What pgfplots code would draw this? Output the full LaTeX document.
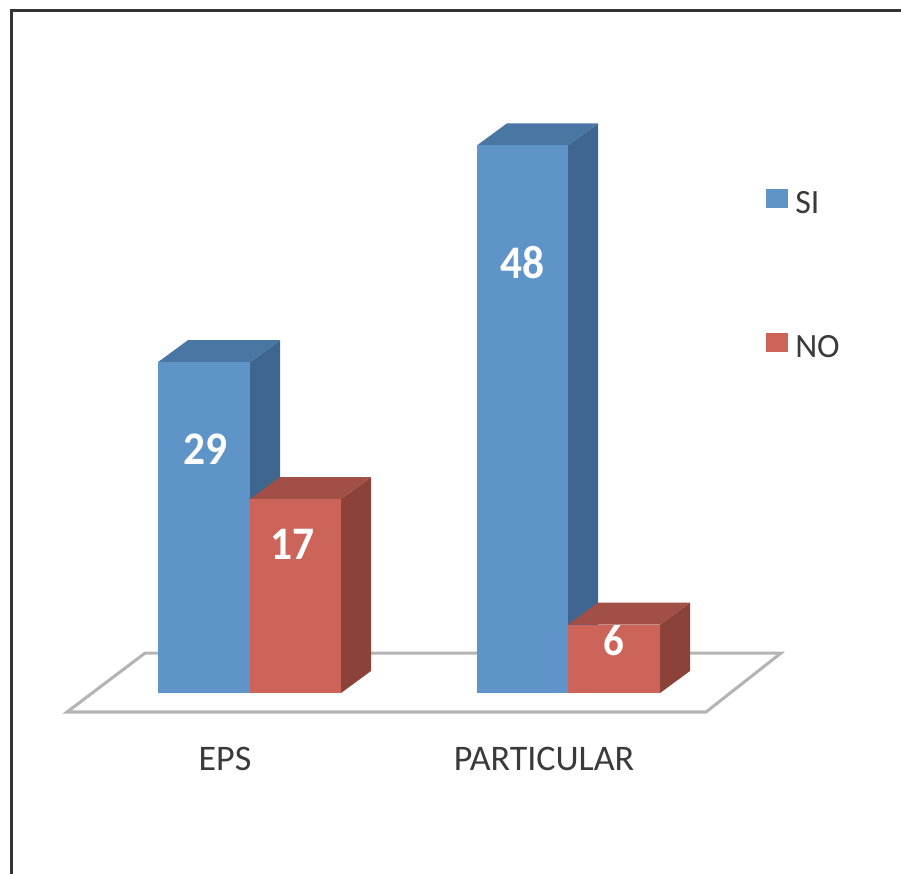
\documentclass[border=0pt]{standalone}
\usepackage{fontspec}
\setmainfont{Carlito}
\usepackage{pgfplots}
\pgfplotsset{compat=1.18}
\definecolor{blueFront}{HTML}{5F94C9}
\definecolor{blueTop}{HTML}{4A76A3}
\definecolor{blueSide}{HTML}{3E668F}
\definecolor{redFront}{HTML}{CC645A}
\definecolor{redTop}{HTML}{A14F47}
\definecolor{redSide}{HTML}{8A4239}
\definecolor{floorLine}{HTML}{B4B4B4}
\definecolor{frameLine}{HTML}{333333}
\definecolor{labelText}{HTML}{3A3A3A}
\begin{document}
\begin{tikzpicture}
% fixes the page to the size of the plotting area
\path[use as bounding box] (0,0) rectangle (675.75pt,655.5pt);
\begin{axis}[
  scale only axis,
  width=675.75pt, height=655.5pt,
  xmin=0, xmax=901,
  ymin=-15.86, ymax=60.74,
  hide axis,
  every axis plot/.append style={line join=miter},
  face/.style={draw=none, fill=#1},
]
% outer frame
\addplot[draw=frameLine, line width=2.8pt, mark=none] coordinates {(11.5,-15.86) (11.5,59.82) (901,59.82)};
% floor of the chart
\addplot[draw=floorLine, line width=2.3pt, mark=none] coordinates {(67,-1.665) (706,-1.665) (781,3.5) (145,3.5)} -- cycle;

% EPS, SI = 29
\addplot[face=blueSide] coordinates {(250,0) (280,1.93) (280,30.93) (250,29)} -- cycle;
\addplot[face=blueTop] coordinates {(158,29) (250,29) (280,30.93) (188,30.93)} -- cycle;
\addplot[face=blueFront] coordinates {(158,0) (250,0) (250,29) (158,29)} -- cycle;
% EPS, NO = 17
\addplot[face=redSide] coordinates {(341,0) (371,1.93) (371,18.93) (341,17)} -- cycle;
\addplot[face=redTop] coordinates {(250,17) (341,17) (371,18.93) (280,18.93)} -- cycle;
\addplot[face=redFront] coordinates {(250,0) (341,0) (341,17) (250,17)} -- cycle;
% PARTICULAR, SI = 48
\addplot[face=blueSide] coordinates {(568,0) (598,1.93) (598,49.93) (568,48)} -- cycle;
\addplot[face=blueTop] coordinates {(477,48) (568,48) (598,49.93) (507,49.93)} -- cycle;
\addplot[face=blueFront] coordinates {(477,0) (568,0) (568,48) (477,48)} -- cycle;
% PARTICULAR, NO = 6
\addplot[face=redSide] coordinates {(660,0) (690,1.93) (690,7.93) (660,6)} -- cycle;
\addplot[face=redTop] coordinates {(568,6) (660,6) (690,7.93) (598,7.93)} -- cycle;
\addplot[face=redFront] coordinates {(568,0) (660,0) (660,6) (568,6)} -- cycle;

% legend swatches
\addplot[face=blueFront] coordinates {(766,44.2) (788,44.2) (788,42.5) (766,42.5)} -- cycle;
\addplot[face=redFront] coordinates {(766,31.55) (788,31.55) (788,29.9) (766,29.9)} -- cycle;

% data labels
\node[anchor=base, text=white, xscale=0.93, font=\bfseries\fontsize{35}{35}\selectfont] at (axis cs:205,20.07) {29};
\node[anchor=base, text=white, xscale=0.93, font=\bfseries\fontsize{35}{35}\selectfont] at (axis cs:292,11.74) {17};
\node[anchor=base, text=white, xscale=0.93, font=\bfseries\fontsize{35}{35}\selectfont] at (axis cs:522,36.35) {48};
\node[anchor=base, text=white, xscale=0.93, font=\bfseries\fontsize{33}{33}\selectfont] at (axis cs:614,3.25) {6};

% category names
\node[anchor=base, text=labelText, font=\fontsize{27}{27}\selectfont] at (axis cs:225,-6.75) {EPS};
\node[anchor=base, text=labelText, font=\fontsize{27}{27}\selectfont] at (axis cs:544,-6.75) {PARTICULAR};

% legend entries
\node[anchor=base west, inner sep=0pt, text=labelText, font=\fontsize{25.5}{25.5}\selectfont] at (axis cs:795,42.07) {SI};
\node[anchor=base west, inner sep=0pt, text=labelText, font=\fontsize{25.5}{25.5}\selectfont] at (axis cs:795,29.45) {NO};
\end{axis}
\end{tikzpicture}
\end{document}
